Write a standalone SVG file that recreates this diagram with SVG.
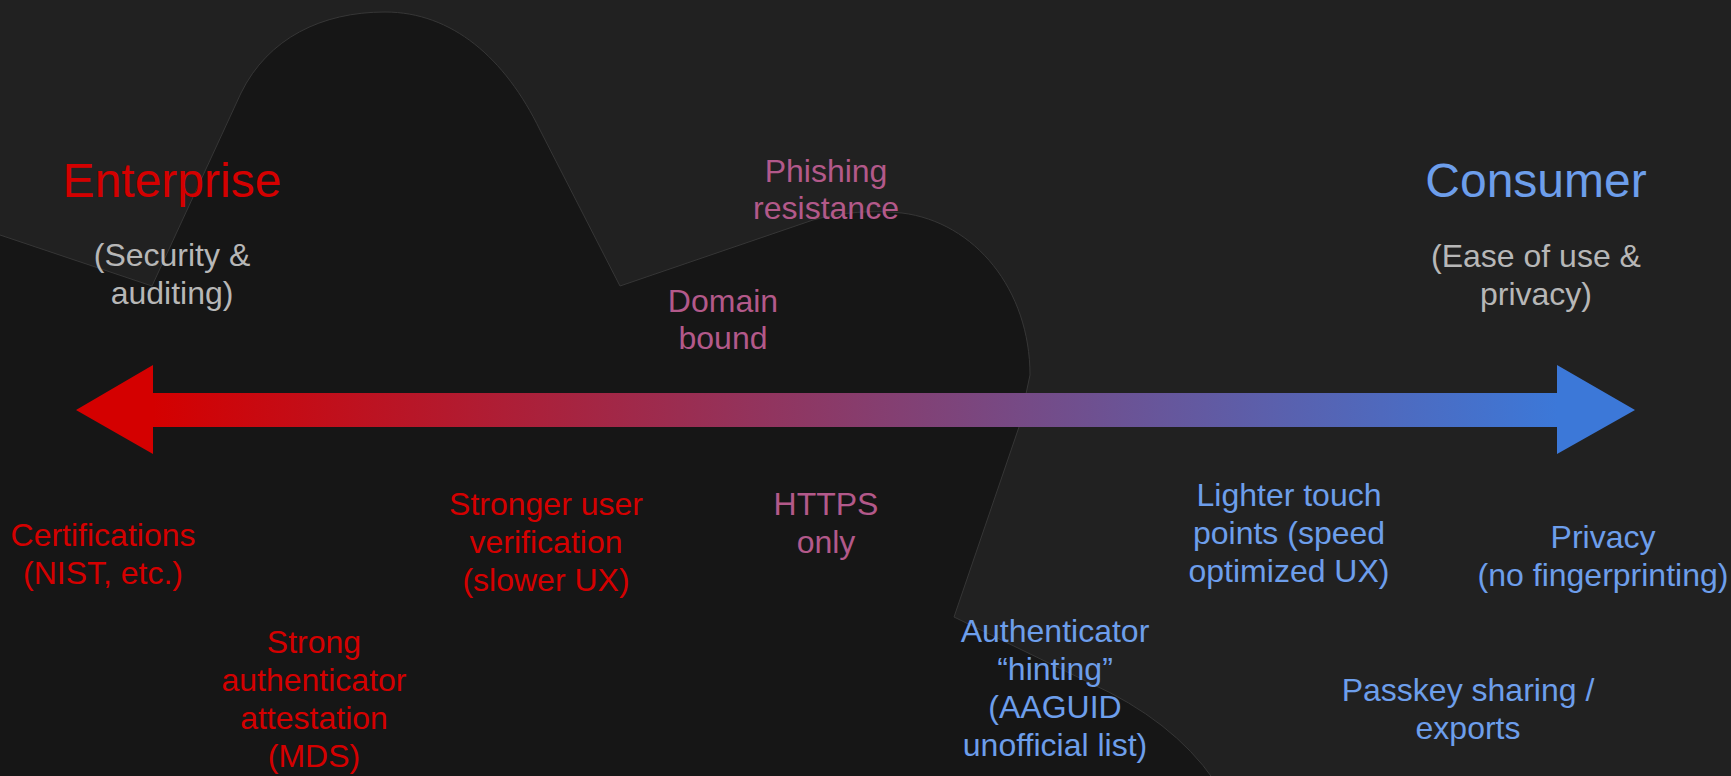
<svg xmlns="http://www.w3.org/2000/svg" width="1731" height="776" viewBox="0 0 1731 776">
  <defs>
    <linearGradient id="axisGrad" gradientUnits="userSpaceOnUse" x1="153" y1="0" x2="1557" y2="0">
      <stop offset="0" stop-color="#d40000"/>
      <stop offset="1" stop-color="#3c78d8"/>
    </linearGradient>
    <style>
      text { font-family: "Liberation Sans", Arial, sans-serif; text-anchor: middle; }
      .title { font-size: 48px; }
      .lbl { font-size: 32px; }
      .red { fill: #d40000; }
      .blue { fill: #6d9eeb; }
      .gray { fill: #b7b7b7; }
      .pink { fill: #b3598a; }
    </style>
  </defs>
  <rect x="0" y="0" width="1731" height="776" fill="#212121"/>
  <path id="backdrop" d="M-3,234 L152,286 L241,93 C268,38 322,12 385,12 C452,12 505,58 540,130 L620,286 L813,220 C842,212 872,210 902,213 C975,222 1030,290 1030,375 L1019,427 L954,617 L1090,683 Q1172,720 1214,780 L-3,780 Z" fill="#161616" stroke="#363636" stroke-width="1"/>
  <g id="connectors">
    <path id="axis" d="M76,410 L153,365 L153,393 L1557,393 L1557,365 L1635,410 L1557,454 L1557,427 L153,427 L153,454 Z" fill="url(#axisGrad)"/>
  </g>
  <g id="enterprise"><text class="title red" x="172" y="197">Enterprise</text></g>
  <g id="enterprise-sub"><text class="lbl gray" x="172" y="266">(Security &amp;</text><text class="lbl gray" x="172" y="304">auditing)</text></g>
  <g id="consumer"><text class="title blue" x="1536" y="197">Consumer</text></g>
  <g id="consumer-sub"><text class="lbl gray" x="1536" y="267">(Ease of use &amp;</text><text class="lbl gray" x="1536" y="305">privacy)</text></g>
  <g id="phishing"><text class="lbl pink" x="826" y="182">Phishing</text><text class="lbl pink" x="826" y="219">resistance</text></g>
  <g id="domain"><text class="lbl pink" x="723" y="312">Domain</text><text class="lbl pink" x="723" y="349">bound</text></g>
  <g id="https"><text class="lbl pink" x="826" y="515">HTTPS</text><text class="lbl pink" x="826" y="553">only</text></g>
  <g id="stronger-uv"><text class="lbl red" x="546" y="515">Stronger user</text><text class="lbl red" x="546" y="553">verification</text><text class="lbl red" x="546" y="591">(slower UX)</text></g>
  <g id="certifications"><text class="lbl red" x="103" y="546">Certifications</text><text class="lbl red" x="103" y="584">(NIST, etc.)</text></g>
  <g id="attestation"><text class="lbl red" x="314" y="653">Strong</text><text class="lbl red" x="314" y="691">authenticator</text><text class="lbl red" x="314" y="729">attestation</text><text class="lbl red" x="314" y="767">(MDS)</text></g>
  <g id="hinting"><text class="lbl blue" x="1055" y="642">Authenticator</text><text class="lbl blue" x="1055" y="680">“hinting”</text><text class="lbl blue" x="1055" y="718">(AAGUID</text><text class="lbl blue" x="1055" y="756">unofficial list)</text></g>
  <g id="lighter"><text class="lbl blue" x="1289" y="506">Lighter touch</text><text class="lbl blue" x="1289" y="544">points (speed</text><text class="lbl blue" x="1289" y="582">optimized UX)</text></g>
  <g id="privacy"><text class="lbl blue" x="1603" y="548">Privacy</text><text class="lbl blue" x="1603" y="586">(no fingerprinting)</text></g>
  <g id="passkey"><text class="lbl blue" x="1468" y="701">Passkey sharing /</text><text class="lbl blue" x="1468" y="739">exports</text></g>
</svg>
